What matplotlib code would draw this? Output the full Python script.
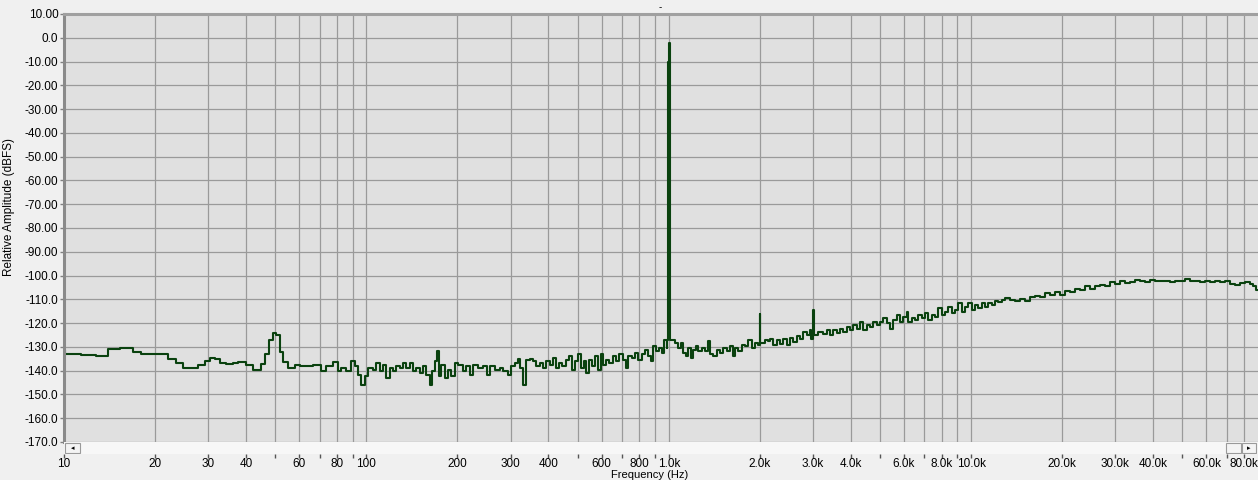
import matplotlib
matplotlib.use("Agg")
import matplotlib.pyplot as plt
from matplotlib.patches import Rectangle

plt.rcParams['font.family'] = ['Liberation Sans', 'DejaVu Sans']

# FFT spectrum (bin start frequency, level in dBFS)
freq_hz = [
    10, 10.05, 11.42, 12.8, 13.98, 15.28, 16.91, 18.03, 19.7, 21.0,
    22.08, 23.54, 24.76, 26.71, 27.75, 29.2, 30.34, 31.5, 32.7, 34.45,
    36.2, 37.63, 40.1, 42.2, 44.98, 46.1, 47.6, 49.1, 50.4, 51.7,
    53.0, 55.1, 57.97, 60.2, 66.6, 71.0, 73.8, 77.6, 80.6, 82.7,
    85.9, 89.2, 91.5, 93.9, 96.3, 98.8, 101.3, 105.3, 108.0, 110.7,
    113.6, 116.5, 119.5, 122.6, 125.7, 129.0, 132.3, 135.7, 139.2, 142.8,
    146.4, 150.2, 154.1, 158.0, 162.1, 165.0, 168.4, 170.6, 174.0, 177.1,
    181.7, 186.4, 191.2, 196.1, 201.1, 208.9, 214.3, 219.8, 225.5, 234.2,
    243.3, 249.6, 256.0, 265.9, 276.3, 283.4, 294.4, 301.9, 309.7, 317.6,
    323.3, 330.0, 336.8, 347.2, 356.1, 365.2, 374.6, 384.2, 394.1, 404.2,
    414.7, 423.2, 434.1, 445.2, 456.7, 468.4, 480.4, 489.0, 501.5, 511.8,
    525.0, 534.5, 544.1, 555.3, 569.5, 584.2, 596.2, 606.9, 619.4, 635.3,
    651.6, 668.3, 685.5, 703.1, 721.3, 734.2, 753.1, 772.4, 792.4, 812.7,
    833.5, 855.0, 872.6, 888.2, 906.6, 929.8, 946.5, 963.5, 983.1, 990,
    996, 1001, 1006, 1012, 1047.6, 1074.6, 1096.5, 1116.1, 1139.1, 1159.5,
    1180.3, 1204.5, 1229.2, 1251.4, 1283.5, 1316.4, 1350.2, 1367.7, 1402.8, 1438.8,
    1475.7, 1513.8, 1552.7, 1592.6, 1633.5, 1654.5, 1697.0, 1740.5, 1785.2, 1831.4,
    1878.4, 1926.6, 1976.0, 1996, 2008, 2079, 2133, 2160, 2216, 2273,
    2331, 2391, 2453, 2516, 2580, 2647, 2715, 2784, 2856, 2930,
    2965, 2995, 3025, 3122, 3243, 3326, 3412, 3499, 3589, 3681,
    3776, 3873, 3972, 4075, 4180, 4287, 4397, 4511, 4627, 4745,
    4867, 4993, 5121, 5253, 5388, 5527, 5669, 5815, 5964, 6118,
    6196, 6355, 6519, 6687, 6859, 7035, 7216, 7402, 7592, 7787,
    7987, 8193, 8404, 8620, 8841, 9069, 9302, 9541, 9786, 10037,
    10295, 10560, 10832, 11110, 11395, 11688, 11990, 12298, 12614, 12938,
    13440, 13958, 14502, 15066, 15651, 16258, 16888, 17546, 18226, 18935,
    19672, 20434, 21232, 22056, 22909, 23800, 24717, 25676, 26669, 27703,
    28780, 29895, 31057, 32261, 33509, 34812, 36159, 37584, 39039, 40551,
    42128, 43759, 45462, 47223, 49050, 50960, 52934, 54996, 57124, 59336,
    61660, 64048, 66542, 69120, 71795, 74591, 77480, 80480, 83600, 85750,
    87520, 88850,
]
level_db = [
    -131.4, -132.8, -133.5, -134.0, -131.0, -130.4, -132.0, -133.0, -132.8, -133.2,
    -135.0, -136.7, -139.0, -138.7, -137.7, -136.0, -134.5, -135.3, -136.7, -137.3,
    -136.7, -136.3, -137.7, -139.8, -137.0, -133.0, -126.9, -124.1, -125.0, -132.0,
    -136.5, -138.9, -137.5, -137.9, -137.5, -140.3, -138.2, -136.5, -140.3, -138.9,
    -140.3, -136.1, -138.2, -141.7, -145.9, -142.4, -138.9, -139.6, -136.8, -140.3,
    -137.5, -143.1, -138.9, -140.3, -138.2, -138.9, -136.8, -138.9, -136.8, -140.3,
    -138.9, -141.0, -138.2, -141.7, -145.9, -140.3, -136.1, -131.9, -142.4, -137.5,
    -143.1, -139.6, -142.4, -136.8, -137.5, -140.3, -138.2, -141.7, -137.5, -138.9,
    -138.2, -141.7, -138.2, -139.6, -138.9, -140.3, -141.7, -138.2, -136.8, -135.1,
    -138.9, -145.9, -135.4, -135.1, -136.1, -138.2, -136.8, -138.9, -136.1, -137.5,
    -134.6, -138.9, -136.8, -138.2, -135.4, -133.9, -139.6, -136.1, -133.2, -138.9,
    -136.1, -141.0, -135.4, -138.2, -133.9, -139.6, -133.2, -137.5, -135.4, -136.8,
    -133.9, -136.1, -133.2, -135.4, -138.9, -133.9, -134.6, -132.5, -135.4, -133.2,
    -131.1, -133.9, -136.1, -129.7, -131.8, -130.4, -132.5, -126.9, -130.4, -126.9,
    -10.0, -2.3, -33.0, -126.9, -128.3, -130.4, -128.3, -132.5, -133.9, -130.4,
    -134.6, -131.1, -129.7, -131.8, -130.4, -131.8, -127.6, -133.2, -133.9, -131.1,
    -132.5, -130.4, -131.8, -129.7, -133.9, -130.4, -131.8, -129.0, -129.7, -126.9,
    -130.4, -128.3, -129.0, -116.3, -128.3, -126.9, -127.6, -126.5, -129.3, -127.2,
    -128.6, -126.5, -129.3, -126.1, -127.9, -125.5, -126.5, -123.7, -125.1, -123.0,
    -126.5, -114.5, -125.1, -123.7, -124.4, -123.0, -125.1, -123.0, -124.2, -122.3,
    -123.7, -121.6, -123.0, -120.8, -122.3, -119.4, -123.0, -120.8, -121.6, -119.4,
    -120.8, -119.4, -118.0, -120.1, -122.3, -118.7, -116.6, -119.4, -117.3, -115.2,
    -119.4, -118.0, -118.7, -116.6, -118.0, -115.9, -118.7, -116.6, -117.3, -113.8,
    -116.6, -115.2, -113.1, -115.9, -114.5, -111.7, -115.2, -113.1, -111.7, -114.5,
    -112.4, -113.8, -111.7, -113.1, -111.4, -112.4, -110.6, -111.0, -110.3, -109.6,
    -110.2, -110.9, -109.9, -110.6, -109.1, -108.5, -109.1, -107.4, -108.1, -107.1,
    -108.1, -106.7, -107.1, -105.7, -106.0, -104.6, -105.7, -104.6, -103.9, -104.6,
    -102.9, -103.5, -102.5, -103.2, -102.9, -101.8, -102.5, -102.9, -101.8, -102.5,
    -102.1, -102.5, -102.9, -102.1, -102.5, -101.5, -102.1, -102.5, -102.9, -102.5,
    -102.9, -102.4, -102.8, -102.5, -103.5, -103.9, -103.2, -102.9, -103.5, -104.6,
    -106.0, -106.0,
]

y_ticks = [10, 0, -10, -20, -30, -40, -50, -60, -70, -80, -90,
           -100, -110, -120, -130, -140, -150, -160, -170]
y_labels = ['10.00', '0.0', '-10.00', '-20.00', '-30.00', '-40.00', '-50.00',
            '-60.00', '-70.00', '-80.00', '-90.00', '-100.0', '-110.0', '-120.0',
            '-130.0', '-140.0', '-150.0', '-160.0', '-170.0']

x_grid = [10, 20, 30, 40, 50, 60, 70, 80, 90,
          100, 200, 300, 400, 500, 600, 700, 800, 900,
          1000, 2000, 3000, 4000, 5000, 6000, 7000, 8000, 9000,
          10000, 20000, 30000, 40000, 50000, 60000, 70000, 80000]
x_labels = {10: '10', 20: '20', 30: '30', 40: '40', 60: '60', 80: '80',
            100: '100', 200: '200', 300: '300', 400: '400', 600: '600', 800: '800',
            1000: '1.0k', 2000: '2.0k', 3000: '3.0k', 4000: '4.0k', 6000: '6.0k',
            8000: '8.0k', 10000: '10.0k', 20000: '20.0k', 30000: '30.0k',
            40000: '40.0k', 60000: '60.0k', 80000: '80.0k'}

W, H = 1258, 480
fig = plt.figure(figsize=(W / 100, H / 100), dpi=100, facecolor='#f0f0f0')

left, right, top, bottom = 64, 1258, 14, 442
ax = fig.add_axes([left / W, 1 - bottom / H, (right - left) / W, (bottom - top) / H])
ax.set_facecolor('#e0e0e0')
ax.set_xscale('log')
ax.set_xlim(10, 88850)
ax.set_ylim(-170, 10)
ax.set_xticks(x_grid)
ax.xaxis.set_minor_locator(matplotlib.ticker.NullLocator())
ax.tick_params(axis='x', length=0, labelbottom=False)
ax.set_yticks(y_ticks)
ax.set_yticklabels(y_labels)
ax.tick_params(axis='y', length=3, width=1, color='#808080', pad=1, labelsize=8.5)
ax.grid(True, color='#9a9a9a', linewidth=0.9)
ax.set_axisbelow(True)
for s in ['right', 'bottom']:
    ax.spines[s].set_visible(False)
ax.spines['left'].set_color('#8a8a8a')
ax.spines['left'].set_linewidth(2.2)
ax.spines['top'].set_color('#a0a0a0')
ax.spines['top'].set_linewidth(2.2)

ax.step(freq_hz, level_db, where='post', color='#0a420f', linewidth=1.5)

ax.set_ylabel('Relative Amplitude (dBFS)', fontsize=8.5)
ax.yaxis.set_label_coords(-0.041, 0.55)

# scrollbar strip with the frequency ticks below it
sb = fig.add_axes([left / W, 1 - 454 / H, (right - left) / W, 12 / H])
sb.set_facecolor('#f7f7f7')
sb.set_xscale('log')
sb.set_xlim(10, 88850)
sb.set_ylim(0, 1)
sb.set_yticks([])
sb.set_xticks(x_grid)
sb.set_xticklabels([x_labels.get(v, '') for v in x_grid])
sb.xaxis.set_minor_locator(matplotlib.ticker.NullLocator())
sb.tick_params(axis='x', length=3, width=1, color='#555555', pad=0, labelsize=8.5)
for s in sb.spines.values():
    s.set_visible(False)
sb.add_patch(Rectangle((0.001, 0.08), 0.012, 0.84, transform=sb.transAxes,
                       facecolor='#f4f4f4', edgecolor='#9a9a9a', linewidth=0.8))
sb.text(0.007, 0.5, '\u25c2', transform=sb.transAxes, ha='center', va='center',
        fontsize=5, family='DejaVu Sans')
sb.add_patch(Rectangle((0.973, 0.08), 0.0125, 0.84, transform=sb.transAxes,
                       facecolor='#f4f4f4', edgecolor='#9a9a9a', linewidth=0.8))
sb.add_patch(Rectangle((0.9865, 0.08), 0.012, 0.84, transform=sb.transAxes,
                       facecolor='#f4f4f4', edgecolor='#9a9a9a', linewidth=0.8))
sb.text(0.9925, 0.5, '\u25b8', transform=sb.transAxes, ha='center', va='center',
        fontsize=5, family='DejaVu Sans')

fig.text(650 / W, 1 - 475 / H, 'Frequency (Hz)', ha='center', va='center', fontsize=8)
fig.text(660 / W, 1 - 7 / H, '-', ha='center', va='center', fontsize=7)

fig.savefig('out.png', dpi=100, facecolor=fig.get_facecolor())
